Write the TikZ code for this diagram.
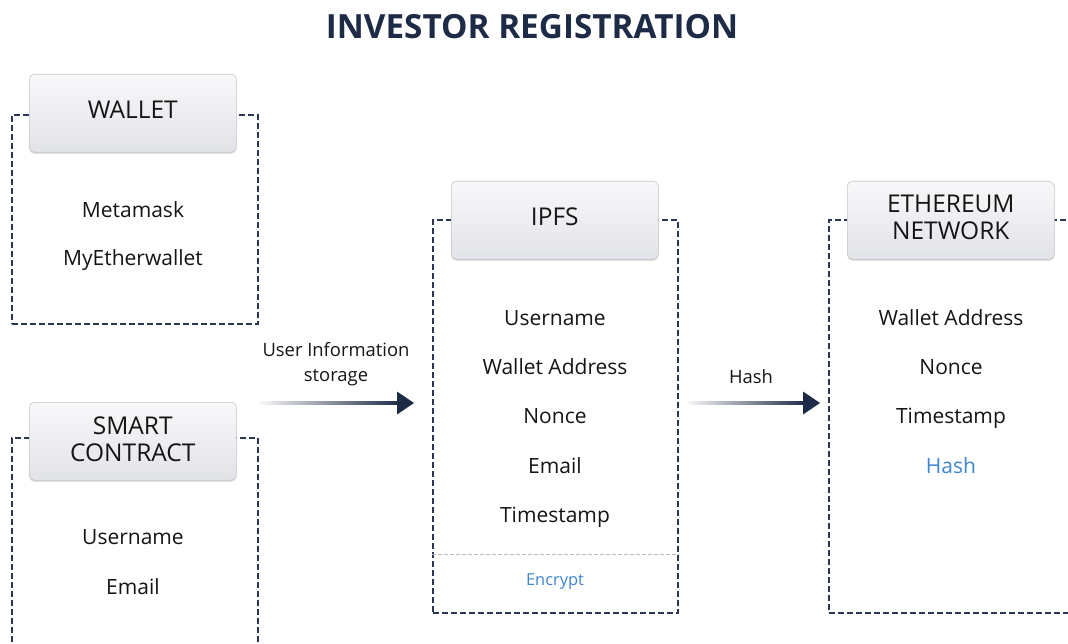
\documentclass[tikz,border=0pt]{standalone}
\usepackage{fontspec}
\setmainfont{Open Sans}
\usetikzlibrary{shadows,calc}
\definecolor{navy}{HTML}{1E2B47}
\definecolor{framec}{HTML}{2A3652}
\definecolor{hdtop}{HTML}{F8F8FA}
\definecolor{hdbot}{HTML}{E2E3E8}
\definecolor{bluetxt}{HTML}{3F86D0}
\definecolor{txt}{HTML}{151515}
\definecolor{sepc}{HTML}{B8BCC4}
\begin{document}
\begin{tikzpicture}[x=1pt,y=-1pt,
 hdr/.style={draw=gray!45, line width=0.6pt, rounded corners=5pt, top color=hdtop, bottom color=hdbot, minimum width=207pt, minimum height=78pt, anchor=north west, drop shadow={opacity=0.25, shadow xshift=0pt, shadow yshift=-1.5pt}},
 hdrtxt/.style={font=\fontsize{24.5}{27}\selectfont, text=txt, align=center, inner sep=0pt},
 frame/.style={draw=framec, line width=1.7pt, dash pattern=on 6pt off 3pt, anchor=north west, inner sep=0pt},
 item/.style={font=\fontsize{21}{24}\selectfont, text=txt, text height=15pt, text depth=0pt, inner sep=0pt},
 lbl/.style={font=\fontsize{18.4}{25}\selectfont, text=txt, align=center, inner sep=0pt},
 arrowfill/.style={left color=navy!4, right color=navy},
]
\clip (0,0) rectangle (1068,644);
\fill[white] (0,0) rectangle (1068,644);

\node[font=\fontsize{33.3}{36}\selectfont\bfseries, text=navy, text height=23.8pt, text depth=0pt, inner sep=0pt] (title) at (532,27) {INVESTOR REGISTRATION};

% WALLET
\node[frame, minimum width=246pt, minimum height=209pt] (wf) at (11,114) {};
\node[hdr] (wh) at (29,74) {};
\node[hdrtxt] (wt) at ([yshift=3.5pt]wh.center) {WALLET};
\node[item] (w1) at (133,210) {Metamask};
\node[item] (w2) at (133,258) {MyEtherwallet};

% SMART CONTRACT
\node[frame, minimum width=246pt, minimum height=300pt] (sf) at (11,437) {};
\node[hdr] (sh) at (29,402) {};
\node[hdrtxt] (st) at ([yshift=2.5pt]sh.center) {SMART\\CONTRACT};
\node[item] (s1) at (133,537) {Username};
\node[item] (s2) at (133,587) {Email};

% IPFS
\node[frame, minimum width=245pt, minimum height=393pt] (pf) at (432,219) {};
\node[hdr] (ph) at (451,181) {};
\node[hdrtxt] (pt) at ([yshift=3.5pt]ph.center) {IPFS};
\node[item] (p1) at (555,318) {Username};
\node[item] (p2) at (555,367) {Wallet Address};
\node[item] (p3) at (555,416) {Nonce};
\node[item] (p4) at (555,466) {Email};
\node[item] (p5) at (555,515) {Timestamp};
\draw[sepc, line width=1.1pt, dash pattern=on 4pt off 2pt] ([yshift=59pt]pf.south west) -- ([yshift=59pt]pf.south east);
\node[font=\fontsize{16.4}{18}\selectfont, text=bluetxt, text height=11.7pt, text depth=0pt, inner sep=0pt] (p6) at (555,580) {Encrypt};

% ETHEREUM
\node[frame, minimum width=300pt, minimum height=393pt] (ef) at (828,219) {};
\node[hdr] (eh) at (847,181) {};
\node[hdrtxt] (et) at ([yshift=3pt]eh.center) {ETHEREUM\\NETWORK};
\node[item] (e1) at (951,318) {Wallet Address};
\node[item] (e2) at (951,367) {Nonce};
\node[item] (e3) at (951,416) {Timestamp};
\node[item, text=bluetxt] (e4) at (951,466) {Hash};

% Arrow 1
\coordinate (a1s) at (260,403);
\coordinate (a1e) at (414,403);
\shade[arrowfill] ($(a1s)+(0,-1.7)$) rectangle ($(a1e)+(-14,1.7)$);
\fill[navy] (a1e) -- ++(-17,-11.5) -- ++(0,23) -- cycle;
\node[lbl] (l1) at (336,364.5) {User Information\\storage};

% Arrow 2
\coordinate (a2s) at (688,403);
\coordinate (a2e) at (820,403);
\shade[arrowfill] ($(a2s)+(0,-1.7)$) rectangle ($(a2e)+(-14,1.7)$);
\fill[navy] (a2e) -- ++(-17,-11.5) -- ++(0,23) -- cycle;
\node[lbl, text height=13.1pt, text depth=0pt] (l2) at (751,377) {Hash};
\end{tikzpicture}
\end{document}
